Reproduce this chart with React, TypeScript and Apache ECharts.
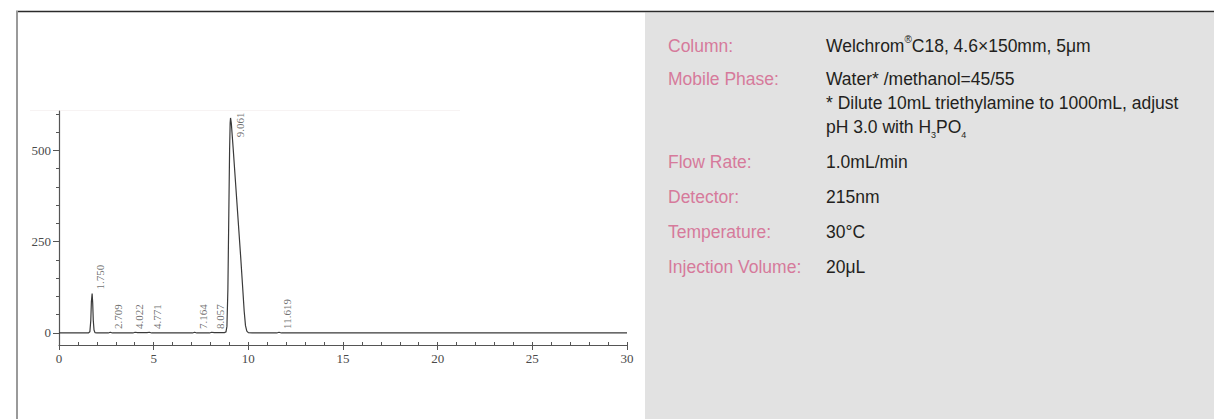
import React, { useEffect, useRef } from "react";
import * as echarts from "echarts";

// ---- data ----
const timeTicks = [0, 5, 10, 15, 20, 25, 30];
const signalTicks = [0, 250, 500];
const signalMinorTicks = [0, 50, 100, 150, 200, 250, 300, 350, 400, 450, 500, 550, 600];

// chromatogram trace: [retention time (min), signal (mAU)]
const traceTime = [
  0, 1.55, 1.63, 1.68, 1.71, 1.75, 1.78, 1.81, 1.85, 1.9, 2.0,
  2.6, 2.71, 2.82, 3.9, 4.02, 4.15, 4.65, 4.77, 4.9,
  7.05, 7.16, 7.28, 7.95, 8.06, 8.2, 8.75, 8.82, 8.87, 8.92, 8.97, 9.01, 9.04, 9.06,
  9.1, 9.2, 9.3, 9.4, 9.5, 9.6, 9.7, 9.78, 9.85, 9.92, 10.0, 10.2,
  11.5, 11.62, 11.75, 30,
];
const traceSignal = [
  0, 0, 3, 35, 85, 108, 82, 35, 8, 1, 0,
  0, 2, 0, 0, 2, 1, 1, 2, 0,
  0, 2, 0, 0, 2, 1, 1, 3, 18, 120, 330, 500, 575, 589,
  575, 505, 430, 355, 280, 205, 125, 60, 20, 5, 1, 0,
  0, 2, 0, 0,
];

const peakTimes = [1.75, 2.709, 4.022, 4.771, 7.164, 8.057, 9.061, 11.619];
const peakLabelBase = [108, 0, 0, 0, 0, 0, 604, 0];

const paramLabels = ["Column:", "Mobile Phase:", "Flow Rate:", "Detector:", "Temperature:", "Injection Volume:"];
const paramValues = [
  "Welchrom{sup|®}C18, 4.6×150mm, 5μm",
  "Water* /methanol=45/55\n* Dilute 10mL triethylamine to 1000mL, adjust\npH 3.0 with H{sub|3}PO{sub|4}",
  "1.0mL/min",
  "215nm",
  "30°C",
  "20μL",
];

export default function App() {
  const ref = useRef<HTMLDivElement>(null);

  useEffect(() => {
    const chart = echarts.init(ref.current!, null, { renderer: "svg" });
    const axisColor = "#555555";
    const serif = "'Liberation Serif', 'DejaVu Serif', serif";
    const sans = "'Liberation Sans', Arial, sans-serif";
    const pink = "#d67a9b";
    const textDark = "#231f20";

    const trace = traceTime.map((t, i) => [t, traceSignal[i]]);

    const peakData = peakTimes.map((t, i) => {
      const isMain = i === 6;
      const dx = t === 4.022 ? 4 : 8;
      return {
        value: [t, peakLabelBase[i]],
        label: isMain
          ? { rotate: 90, align: "right", verticalAlign: "middle", offset: [0, 9] }
          : { rotate: 90, align: "left", verticalAlign: "middle", offset: [4, dx] },
      };
    });

    // right panel texts
    const graphicTexts: any[] = [];
    const rowY = [46, 79, 162, 197, 232, 267];
    const lineH = 24;
    paramLabels.forEach((lab, i) => {
      graphicTexts.push({
        type: "text",
        x: 668,
        y: rowY[i],
        style: {
          text: lab,
          fill: pink,
          fontSize: 17.5,
          fontFamily: sans,
          verticalAlign: "middle",
          align: "left",
        },
      });
      graphicTexts.push({
        type: "text",
        x: 826,
        y: rowY[i] - lineH / 2,
        style: {
          text: paramValues[i],
          fill: textDark,
          fontSize: 17.5,
          fontFamily: sans,
          lineHeight: lineH,
          verticalAlign: "top",
          align: "left",
          rich: {
            sup: { fontSize: 10, lineHeight: 14, verticalAlign: "top", fill: textDark, fontFamily: sans },
            sub: { fontSize: 9, lineHeight: 21, verticalAlign: "bottom", fill: textDark, fontFamily: sans },
          },
        },
      });
    });

    const option: any = {
      animation: false,
      backgroundColor: "#ffffff",
      grid: { left: 59, right: 587, top: 111, bottom: 74, containLabel: false },
      xAxis: [
        {
          type: "value",
          min: timeTicks[0],
          max: timeTicks[timeTicks.length - 1],
          interval: 5,
          axisLine: { show: true, onZero: false, lineStyle: { color: axisColor, width: 1.2 } },
          axisTick: { show: true, length: 5, lineStyle: { color: axisColor } },
          axisLabel: { fontFamily: serif, fontSize: 13, color: "#4a4a4a", margin: 7 },
          splitLine: { show: false },
        },
        {
          type: "value",
          position: "bottom",
          min: 0,
          max: 30,
          interval: 1,
          axisLine: { show: false, onZero: false },
          axisTick: { show: true, inside: true, length: 3, lineStyle: { color: axisColor } },
          axisLabel: { show: false },
          splitLine: { show: false },
        },
      ],
      yAxis: [
        {
          type: "value",
          min: -33,
          max: 608,
          axisLine: { show: true, onZero: false, lineStyle: { color: axisColor, width: 1.2 } },
          axisTick: { show: true, length: 6, customValues: signalTicks, lineStyle: { color: axisColor } },
          axisLabel: { customValues: signalTicks, fontFamily: serif, fontSize: 13, color: "#4a4a4a", margin: 8 },
          splitLine: { show: false },
        },
        {
          type: "value",
          position: "left",
          min: -33,
          max: 608,
          axisLine: { show: false, onZero: false },
          axisTick: { show: true, length: 3, customValues: signalMinorTicks, lineStyle: { color: axisColor } },
          axisLabel: { show: false },
          splitLine: { show: false },
        },
      ],
      series: [
        {
          type: "line",
          xAxisIndex: 0,
          yAxisIndex: 0,
          data: trace,
          showSymbol: false,
          symbol: "none",
          lineStyle: { color: "#3a3a3a", width: 1.2 },
          silent: true,
        },
        {
          type: "scatter",
          xAxisIndex: 0,
          yAxisIndex: 0,
          data: peakData,
          symbolSize: 0,
          silent: true,
          label: {
            show: true,
            position: "inside",
            formatter: (p: any) => p.value[0].toFixed(3),
            fontFamily: serif,
            fontSize: 11,
            color: "#4a4a4a",
          },
        },
      ],
      graphic: [
        {
          type: "rect",
          z: -10,
          shape: { x: 645, y: 12.5, width: 569, height: 407 },
          style: { fill: "#e2e2e2" },
        },
        {
          type: "line",
          shape: { x1: 16, y1: 11.5, x2: 1214, y2: 11.5 },
          style: { stroke: "#2b2b2b", lineWidth: 1.5 },
        },
        {
          type: "line",
          shape: { x1: 17, y1: 11, x2: 17, y2: 419 },
          style: { stroke: "#9a9a9a", lineWidth: 2 },
        },
        {
          type: "line",
          z: -5,
          shape: { x1: 30, y1: 110.5, x2: 460, y2: 110.5 },
          style: { stroke: "#f7f3f3", lineWidth: 1 },
        },
        ...graphicTexts,
      ],
    };

    chart.setOption(option);
    return () => chart.dispose();
  }, []);

  return (
    <div
      ref={ref}
      style={{ position: "fixed", left: 0, top: 0, width: 1214, height: 419 }}
    />
  );
}
